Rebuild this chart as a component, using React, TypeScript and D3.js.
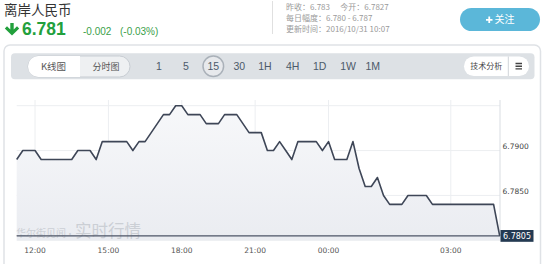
import React from "react";
import * as d3 from "d3";

// ---- data ----
const prices: number[] = [
  6.789, 6.79, 6.79, 6.79, 6.789, 6.789, 6.789, 6.789, 6.789, 6.789,
  6.79, 6.79, 6.79, 6.789, 6.791, 6.791, 6.791, 6.791, 6.791, 6.79,
  6.791, 6.791, 6.792, 6.793, 6.794, 6.794, 6.795, 6.795, 6.794, 6.794,
  6.794, 6.793, 6.793, 6.793, 6.794, 6.794, 6.794, 6.793, 6.792, 6.792,
  6.792, 6.79, 6.79, 6.791, 6.79, 6.789, 6.791, 6.791, 6.791, 6.791,
  6.79, 6.791, 6.789, 6.789, 6.789, 6.791, 6.788, 6.786, 6.786, 6.787,
  6.785, 6.784, 6.784, 6.784, 6.785, 6.785, 6.785, 6.785, 6.784, 6.784,
  6.784, 6.784, 6.784, 6.784, 6.784, 6.784, 6.784, 6.784, 6.784, 6.7805,
];
const timeTickIndex: number[] = [3, 15, 27, 39, 51, 71];
const timeTickLabels: string[] = ["12:00", "15:00", "18:00", "21:00", "00:00", "03:00"];
const gridValues: number[] = [6.795, 6.79, 6.785, 6.78];
const priceLabelValues: number[] = [6.79, 6.785];
const lastPrice = 6.7805;
const periods: string[] = ["1", "5", "15", "30", "1H", "4H", "1D", "1W", "1M"];
const periodX: number[] = [159, 186, 213.3, 239.3, 265, 292.7, 319.7, 348, 372.7];
const activePeriod = "15";
const infoLines: string[][] = [
  ["昨收：6.783", "今开：6.7827"],
  ["每日幅度：6.780 - 6.787"],
  ["更新时间：2016/10/31 10:07"],
];

const CJK = "'Noto Sans CJK SC', 'Noto Sans', sans-serif";
const NUM = "'DejaVu Sans', sans-serif";

export default function App() {
  const x = d3.scaleLinear().domain([0, prices.length - 1]).range([16.7, 499.7]);
  const y = d3.scaleLinear().domain([6.78, 6.795]).range([240.3, 105.7]);
  const plotTop = 100;
  const plotBottom = 240.3;
  const plotLeft = 16.7;
  const plotRight = 500;

  const line = d3
    .line<number>()
    .x((_, i) => x(i))
    .y((d) => y(d));
  const area = d3
    .area<number>()
    .x((_, i) => x(i))
    .y0(plotBottom)
    .y1((d) => y(d));

  const green = "#22a03c";

  return (
    <svg
      width={544}
      height={264}
      style={{ position: "absolute", left: 0, top: 0, background: "#fff" }}
    >
      <defs>
        <linearGradient id="fillGrad" x1="0" y1="0" x2="0" y2="1">
          <stop offset="0%" stopColor="#f7f8fa" />
          <stop offset="100%" stopColor="#eaecf1" />
        </linearGradient>
        <clipPath id="leftHalf">
          <rect x={28} y={56} width={52} height={21} />
        </clipPath>
      </defs>

      {/* header */}
      <text x={4} y={15} fontFamily={CJK} fontSize={13.5} fill="#333">
        离岸人民币
      </text>
      <path
        d="M10.3,23 H13.7 V29.6 L17,26.3 L19.2,28.5 L12,35.6 L4.8,28.5 L7,26.3 L10.3,29.6 Z"
        fill={green}
      />
      <text
        x={22}
        y={35.3}
        fontFamily="'Liberation Sans', Arial, sans-serif"
        fontWeight="bold"
        fontSize={17.5}
        fill={green}
      >
        6.781
      </text>
      <text x={83} y={34.8} fontFamily="'Liberation Sans', Arial, sans-serif" fontSize={10} fill="#3aa04a">
        -0.002
      </text>
      <text x={120} y={34.8} fontFamily="'Liberation Sans', Arial, sans-serif" fontSize={10} fill="#3aa04a">
        (-0.03%)
      </text>

      <line x1={272.5} x2={272.5} y1={1} y2={34} stroke="#e0e0e0" strokeWidth={1} />
      {infoLines.map((row, r) =>
        row.map((t, c) => (
          <text
            key={`${r}-${c}`}
            x={c === 0 ? 286 : 340.3}
            y={9.8 + r * 11.3}
            fontFamily={CJK}
            fontSize={8}
            fill="#9a9a9a"
          >
            {t}
          </text>
        ))
      )}

      {/* follow button */}
      <rect x={460} y={8} width={80} height={23} rx={11.5} fill="#5bb7d9" />
      <path d="M486,19.8 H492.5 M489.25,16.5 V23" stroke="#fff" strokeWidth={1.8} />
      <text x={494.5} y={23.4} fontFamily={CJK} fontSize={10} fill="#fff">
        关注
      </text>

      {/* chart container */}
      <rect x={4} y={45} width={536.5} height={230} rx={6} fill="#fff" stroke="#dfe2e6" strokeWidth={1.5} />

      {/* toolbar */}
      <rect x={11} y={53.3} width={523.5} height={26} rx={4} fill="#dde1e5" />
      <rect x={28} y={56} width={102} height={21} rx={10.5} fill="#eef0f2" stroke="#c8cdd3" strokeWidth={1} />
      <rect x={28} y={56} width={102} height={21} rx={10.5} fill="#fff" clipPath="url(#leftHalf)" />
      <text x={53.5} y={69.8} textAnchor="middle" fontFamily={CJK} fontSize={9.5} fill="#555">
        K线图
      </text>
      <text x={106} y={69.8} textAnchor="middle" fontFamily={CJK} fontSize={9} fill="#555">
        分时图
      </text>

      {periods.map((p, i) => (
        <g key={p}>
          {p === activePeriod && (
            <circle cx={periodX[i]} cy={66.3} r={10.3} fill="#e7e9ec" stroke="#aab1b9" strokeWidth={1.5} />
          )}
          <text
            x={periodX[i]}
            y={69.8}
            textAnchor="middle"
            fontFamily="'Liberation Sans', Arial, sans-serif"
            fontSize={10.5}
            fill="#4c5a6a"
          >
            {p}
          </text>
        </g>
      ))}

      <rect x={464} y={56.5} width={65} height={19.5} rx={9.75} fill="#fff" />
      <line x1={508.3} x2={508.3} y1={56.5} y2={76} stroke="#d0d4d9" strokeWidth={1} />
      <text x={486.3} y={69.3} textAnchor="middle" fontFamily={CJK} fontSize={8} fill="#444">
        技术分析
      </text>
      <path d="M515.5,63.5 H522 M515.5,66.2 H522 M515.5,68.9 H522" stroke="#444" strokeWidth={1.4} />

      {/* grid */}
      {gridValues.map((v) => (
        <line key={v} x1={plotLeft} x2={plotRight} y1={y(v)} y2={y(v)} stroke="#eceef1" strokeWidth={1} />
      ))}
      {timeTickIndex.map((ti) => (
        <line key={ti} x1={x(ti)} x2={x(ti)} y1={plotTop} y2={plotBottom} stroke="#eceef1" strokeWidth={1} />
      ))}
      <line x1={plotRight} x2={plotRight} y1={plotTop} y2={plotBottom} stroke="#d9dde2" strokeWidth={1} />

      {/* area + line */}
      <path d={area(prices) || ""} fill="url(#fillGrad)" />

      {/* watermark */}
      <text x={16} y={236.5} fontFamily={CJK} fill="#cbcfd5">
        <tspan fontSize={10}>华尔街见闻</tspan>
        <tspan x={65.5} fontSize={9}>·</tspan>
        <tspan x={75} fontSize={16.5}>实时行情</tspan>
      </text>

      <line
        x1={plotLeft}
        x2={plotRight}
        y1={y(lastPrice)}
        y2={y(lastPrice)}
        stroke="#4d5566"
        strokeWidth={1.3}
      />
      <path
        d={line(prices) || ""}
        fill="none"
        stroke="#3e4657"
        strokeWidth={1.6}
        strokeLinejoin="round"
      />

      {/* price axis labels */}
      {priceLabelValues.map((v) => (
        <text key={v} x={502.5} y={y(v) - 1.6} fontFamily={NUM} fontSize={7.5} fill="#444">
          {v.toFixed(4)}
        </text>
      ))}
      <rect x={500.5} y={y(lastPrice) - 5.8} width={33} height={11.8} fill="#243a52" />
      <text
        x={517}
        y={y(lastPrice) + 2.9}
        textAnchor="middle"
        fontFamily={NUM}
        fontSize={8}
        fill="#fff"
      >
        {lastPrice.toFixed(4)}
      </text>

      {/* time labels */}
      {timeTickIndex.map((ti, k) => (
        <text
          key={ti}
          x={x(ti)}
          y={253}
          textAnchor="middle"
          fontFamily={NUM}
          fontSize={7.5}
          fill="#555"
        >
          {timeTickLabels[k]}
        </text>
      ))}
    </svg>
  );
}
